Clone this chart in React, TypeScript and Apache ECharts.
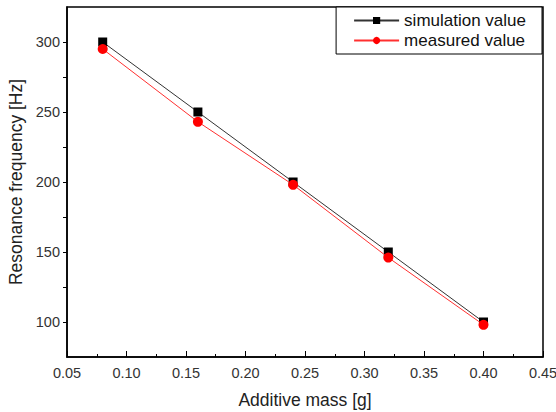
import React, { useEffect, useRef } from "react";
import * as echarts from "echarts";

const masses = [0.08, 0.16, 0.24, 0.32, 0.4];
const simulationValues = [300, 250, 200, 150, 100];
const measuredValues = [295, 243, 198, 146, 98];

const FONT = "Liberation Sans";

export default function App() {
  const ref = useRef<HTMLDivElement>(null);
  useEffect(() => {
    if (!ref.current) return;
    const chart = echarts.init(ref.current, undefined, { renderer: "svg" });
    chart.setOption({
      animation: false,
      backgroundColor: "#fff",
      textStyle: { fontFamily: FONT },
      grid: {
        left: 67,
        right: 13,
        top: 7,
        bottom: 55,
        containLabel: false,
        outerBoundsMode: "none",
        show: true,
        borderColor: "#000",
        borderWidth: 1.5,
        backgroundColor: "transparent",
      },
      legend: {
        right: 14,
        top: 7,
        orient: "vertical",
        itemWidth: 45,
        itemHeight: 9,
        itemGap: 3,
        padding: [5, 16, 5, 17],
        borderColor: "#000",
        borderWidth: 1,
        backgroundColor: "#fff",
        textStyle: { fontFamily: FONT, fontSize: 17, color: "#111" },
        data: ["simulation value", "measured value"],
      },
      xAxis: {
        type: "value",
        min: 0.05,
        max: 0.45,
        interval: 0.05,
        name: "Additive mass [g]",
        nameLocation: "middle",
        nameGap: 34,
        nameTextStyle: { fontFamily: FONT, fontSize: 17.5, color: "#222" },
        axisLine: { show: true, lineStyle: { color: "#000", width: 1.5 } },
        axisTick: { show: true, inside: true, length: 6, lineStyle: { color: "#000" } },
        minorTick: { show: true, splitNumber: 2, length: 3, lineStyle: { color: "#000" } },
        splitLine: { show: false },
        axisLabel: {
          fontFamily: FONT,
          fontSize: 14.5,
          color: "#333",
          margin: 8,
          formatter: (v: number) => v.toFixed(2),
        },
      },
      yAxis: {
        type: "value",
        min: 75,
        max: 325,
        interval: 25,
        name: "Resonance frequency [Hz]",
        nameLocation: "middle",
        nameGap: 41,
        nameTextStyle: { fontFamily: FONT, fontSize: 17.5, color: "#222" },
        axisLine: { show: true, lineStyle: { color: "#000", width: 1.5 } },
        axisTick: { show: true, inside: false, length: 4, lineStyle: { color: "#000" } },
        splitLine: { show: false },
        axisLabel: {
          fontFamily: FONT,
          fontSize: 14.5,
          color: "#333",
          margin: 7,
          showMinLabel: false,
          showMaxLabel: false,
          formatter: (v: number) => (v % 50 === 0 ? String(v) : ""),
        },
      },
      series: [
        {
          name: "simulation value",
          type: "line",
          data: masses.map((m, i) => [m, simulationValues[i]]),
          symbol: "rect",
          symbolSize: 9,
          itemStyle: { color: "#000" },
          lineStyle: { color: "#333", width: 1 },
          z: 2,
        },
        {
          name: "measured value",
          type: "line",
          data: masses.map((m, i) => [m, measuredValues[i]]),
          symbol: "circle",
          symbolSize: 10,
          itemStyle: { color: "#ff0000" },
          lineStyle: { color: "#ff3030", width: 1 },
          z: 3,
        },
      ],
    });
    return () => chart.dispose();
  }, []);
  return <div ref={ref} style={{ width: 556, height: 412, position: "fixed", left: 0, top: 0 }} />;
}
